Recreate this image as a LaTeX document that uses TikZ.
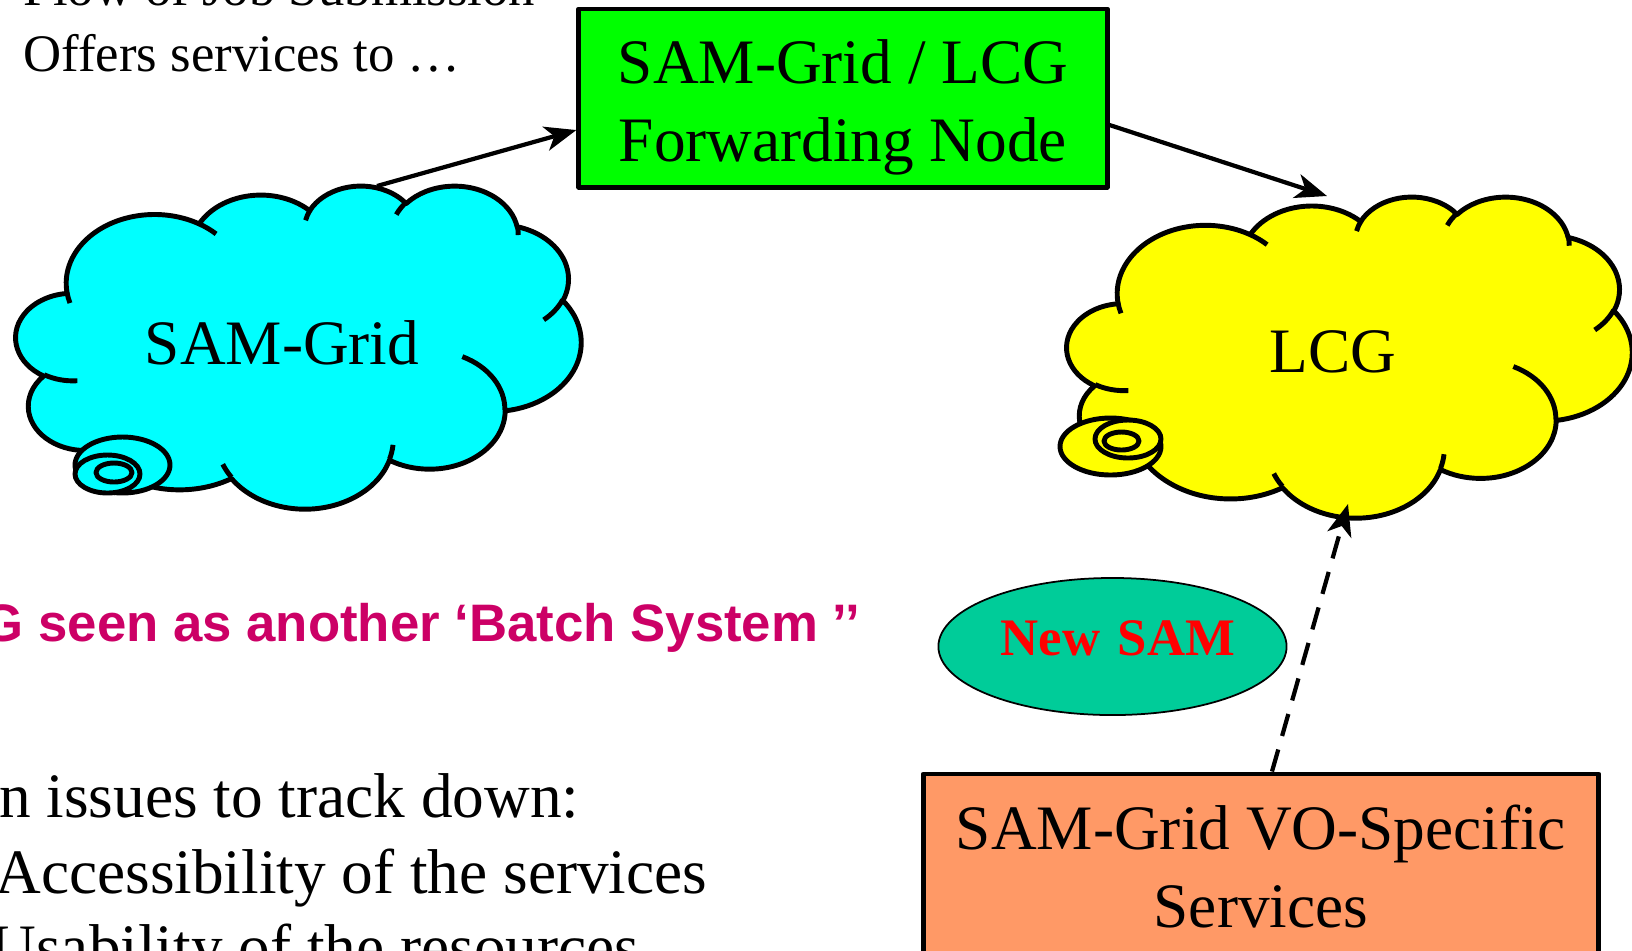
\documentclass[tikz,border=0pt]{standalone}
\usepackage{fontspec}
\setmainfont{Liberation Serif}
\newfontfamily\arialfont{Liberation Sans}
\usetikzlibrary{arrows.meta,shapes.geometric}

\definecolor{samcyan}{HTML}{00FFFF}
\definecolor{lcgyellow}{HTML}{FFFF00}
\definecolor{fwdgreen}{HTML}{00FF00}
\definecolor{voorange}{HTML}{FF9966}
\definecolor{newsamgreen}{HTML}{00CC99}
\definecolor{batchpink}{HTML}{CC0066}

\tikzset{declare function={
	pang(\ea,\erx,\ery)=atan2(\erx*sin(\ea),\ery*cos(\ea));
	eang(\ea,\eb,\erx,\ery)=pang(\ea,\erx,\ery)+((\eb>0) ? mod(pang(\ea+\eb,\erx,\ery)-pang(\ea,\erx,\ery)+720,360) : -mod(pang(\ea,\erx,\ery)-pang(\ea+\eb,\erx,\ery)+720,360));
}}

\newcommand{\cloudshape}[1]{%
	\filldraw[fill=#1] (39,143.70)
	\foreach \rx/\ry/\sa/\sb in {67.53/91.90/-190.4875/123.7805,53.33/72.67/-144.1024/89.9452,43.65/59.45/-145.8079/99.7230,48.57/65.95/-130.9861/117.2417,53.33/72.73/-78.7089/109.0269,67.75/92.20/-46.2673/130.2690,57.85/78.67/0.6250/114.0333,67.52/92.15/22.4516/115.1726,77.20/105.43/66.2426/75.7110,43.60/59.18/-274.9421/146.7356,43.45/59.45/-246.8285/152.5189}
	{arc[start angle={pang(\sa,\rx,\ry)}, end angle={eang(\sa,\sb,\rx,\ry)}, x radius=\rx, y radius=\ry]} -- cycle;
	\foreach \px/\py/\rx/\ry/\sa/\sb in {46.93/261.77/43.45/59.45/86.742/26.4295,69.28/348.99/43.60/59.18/73.6105/11.4475,164.78/390.90/67.52/92.15/137.6242/14.0811,288.27/347.51/67.52/92.15/6.4533/15.9984,341.29/229.54/57.85/78.67/-70.2924/70.9174,417.98/153.54/53.33/72.73/30.3180/27.7515,383.24/54.26/48.57/65.95/-13.7443/14.8589,290.78/39.52/48.57/65.95/-149.1815/18.1954,221.41/47.20/43.65/59.45/-163.4943/17.6864,140.00/51.92/67.53/91.90/-66.7070/12.3194,41.27/157.89/67.53/91.90/157.6544/11.8582}
	\draw (\px,\py) arc[start angle={pang(\sa,\rx,\ry)}, end angle={eang(\sa,\sb,\rx,\ry)}, x radius=\rx, y radius=\ry];
}

\begin{document}
\begin{tikzpicture}[x=0.01cm, y=-0.01cm, >={Stealth[length=9pt,width=7pt,inset=2.5pt]}, line join=round,
	cloudline/.style={line width=1.4pt},
	bigtext/.style={font=\fontsize{18}{22}\selectfont},
	smalltext/.style={font=\fontsize{15}{18.7}\selectfont, inner sep=0pt},
	boxnode/.style={draw, line width=1.4pt, align=center, inner sep=0pt, bigtext},
	flowarrow/.style={->, line width=1.2pt}]
	\useasboundingbox (0,0) rectangle (1632,950);
	\clip (0,0) rectangle (1632,950);

	\begin{scope}[shift={(16,185)}, xscale=565/432, yscale=323/432, cloudline]
		\cloudshape{samcyan}
	\end{scope}
	\filldraw[cloudline, fill=samcyan] (122.5,465) ellipse [x radius=47.5, y radius=28];
	\filldraw[cloudline, fill=samcyan] (107.5,474) ellipse [x radius=32.5, y radius=19];
	\filldraw[cloudline, fill=samcyan] (114,472.5) ellipse [x radius=18, y radius=9.5];

	\begin{scope}[shift={(1067,196)}, xscale=565/432, yscale=321/432, cloudline]
		\cloudshape{lcgyellow}
	\end{scope}
	\filldraw[cloudline, fill=lcgyellow] (1110.5,446.5) ellipse [x radius=50.5, y radius=28.5];
	\filldraw[cloudline, fill=lcgyellow] (1128,439) ellipse [x radius=33, y radius=19];
	\filldraw[cloudline, fill=lcgyellow] (1121.5,441) ellipse [x radius=17.5, y radius=9];

	\node[smalltext, anchor=base west] (flow) at (23,5) {Flow of Job Submission};
	\node[smalltext, anchor=base west] (offers) at (23,71) {Offers services to …};

	\node[boxnode, fill=fwdgreen, minimum width=5.28cm, minimum height=1.78cm, text height=1.40cm] (fwd) at (843,98) {SAM-Grid / LCG\\Forwarding Node};
	\node[bigtext, anchor=base] (samgrid) at (282,364) {SAM-Grid};
	\node[bigtext, anchor=base] (lcg) at (1333,372) {LCG};

	\node[ellipse, draw, line width=0.5pt, fill=newsamgreen, inner sep=0pt, minimum width=3.48cm, minimum height=1.37cm,
		text width=2.45cm, align=right, text depth=0.16cm,
		font=\fontsize{15}{18}\selectfont\bfseries, text=red] (newsam) at (1112.5,646.5) {New SAM};
	\node[boxnode, fill=voorange, minimum width=6.75cm, minimum height=1.82cm, text height=1.25cm] (vo) at (1261,865) {SAM-Grid VO-Specific\\Services};

	\node[smalltext, anchor=base east, font=\arialfont\fontsize{15}{18}\selectfont\bfseries, text=batchpink] (batch) at (861,641) {G seen as another ‘Batch System ’’};

	\node[bigtext, inner sep=0pt, anchor=base east] (issues) at (580,817) {n issues to track down:};
	\node[bigtext, inner sep=0pt, anchor=base east] (access) at (708,893) {Accessibility of the services};
	\node[bigtext, inner sep=0pt, anchor=base east] (usab) at (640,968) {Usability of the resources};

	\coordinate (samtop) at (377,186);
	\coordinate (lcgtop) at (1327,196);
	\coordinate (lcgbot) at (1348,504);
	\draw[flowarrow] (samtop) -- ([yshift=-0.32cm]fwd.west);
	\draw[flowarrow] ([yshift=-0.27cm]fwd.east) -- (lcgtop);
	\draw[flowarrow, dash pattern=on 6.5pt off 4pt] ([xshift=0.11cm]vo.north) -- (lcgbot);
\end{tikzpicture}
\end{document}
